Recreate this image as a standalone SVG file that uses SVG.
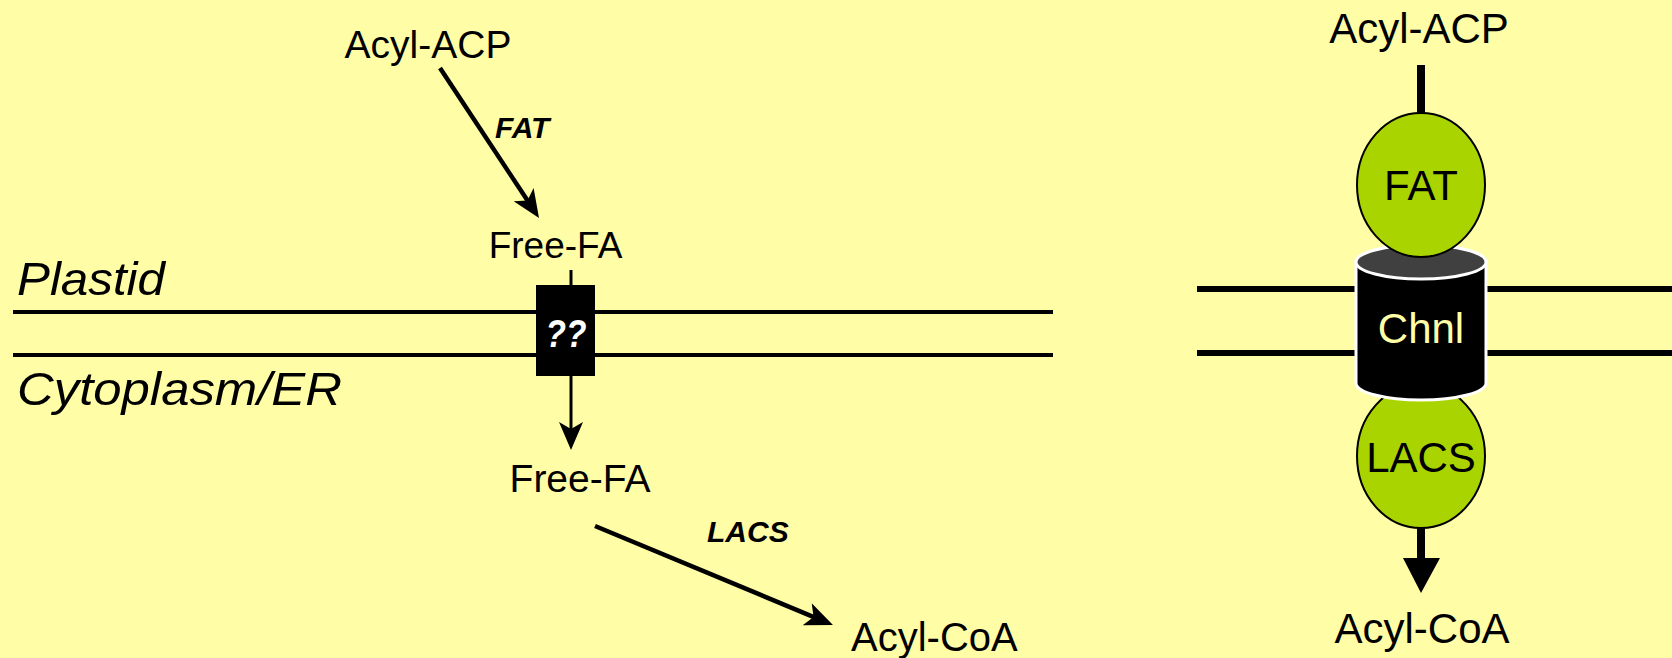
<svg xmlns="http://www.w3.org/2000/svg" width="1672" height="658" viewBox="0 0 1672 658">
<style>
text{font-family:"Liberation Sans",Arial,sans-serif;fill:#000}
.lbl{font-size:39px}
.rlbl{font-size:42px;text-anchor:middle}
.enz{font-size:30px;font-weight:bold;font-style:italic}
.comp{font-size:47px;font-style:italic}
.mem{stroke:#000;stroke-width:4;fill:none}
.rmem{stroke:#000;stroke-width:6;fill:none}
.conn{stroke:#000;fill:none}
.prot{fill:#AAD400;stroke:#000;stroke-width:2}
</style>
<defs>
<marker id="stealth" markerUnits="userSpaceOnUse" markerWidth="28" markerHeight="24" viewBox="0 0 28 24" refX="8" refY="12" orient="auto">
<path d="M0,0 L28,12 L0,24 L7,12 Z" fill="#000"/>
</marker>
</defs>
<rect x="0" y="0" width="1672" height="658" fill="#FFFDA6"/>

<g id="membranes">
<line class="mem" x1="13" y1="312" x2="1053" y2="312"/>
<line class="mem" x1="13" y1="355" x2="1053" y2="355"/>
<line class="rmem" x1="1197" y1="289" x2="1672" y2="289"/>
<line class="rmem" x1="1197" y1="353" x2="1672" y2="353"/>
</g>

<g id="compartments">
<text class="comp" x="17" y="295" textLength="148" lengthAdjust="spacingAndGlyphs">Plastid</text>
<text class="comp" x="17" y="405" textLength="325" lengthAdjust="spacingAndGlyphs">Cytoplasm/ER</text>
</g>

<g id="connectors">
<path class="conn" stroke-width="4.5" d="M440,68 L528,201.3" marker-end="url(#stealth)"/>
<line class="conn" stroke-width="3" x1="571" y1="270" x2="571" y2="286"/>
<path class="conn" stroke-width="3" d="M571,376 L571,430" marker-end="url(#stealth)"/>
<path class="conn" stroke-width="4.5" d="M595,526 L814.5,617.3" marker-end="url(#stealth)"/>
<line class="conn" stroke-width="8" x1="1421" y1="65" x2="1421" y2="115"/>
<line class="conn" stroke-width="8" x1="1421" y1="526" x2="1421" y2="560"/>
<polygon points="1403,558 1440,558 1421,593" fill="#000"/>
</g>

<g id="acyl-acp-left"><text class="lbl" x="428" y="58" text-anchor="middle">Acyl-ACP</text></g>
<g id="fat-label"><text class="enz" x="495" y="138">FAT</text></g>
<g id="free-fa-plastid"><text x="555.5" y="258" font-size="37" text-anchor="middle">Free-FA</text></g>
<g id="transporter">
<rect x="536" y="285" width="59" height="91" fill="#000"/>
<text x="566" y="347" font-size="38" font-weight="bold" font-style="italic" text-anchor="middle" style="fill:#fff" textLength="41" lengthAdjust="spacingAndGlyphs">??</text>
</g>
<g id="free-fa-cyto"><text class="lbl" x="580" y="492" text-anchor="middle">Free-FA</text></g>
<g id="lacs-label"><text class="enz" x="707" y="542">LACS</text></g>
<g id="acyl-coa-left"><text x="851" y="651" font-size="40">Acyl-CoA</text></g>

<g id="acyl-acp-right"><text class="rlbl" x="1419" y="43">Acyl-ACP</text></g>
<g id="lacs-right">
<ellipse class="prot" cx="1421" cy="456" rx="64" ry="72"/>
<text class="rlbl" x="1421" y="472">LACS</text>
</g>
<g id="channel">
<path d="M1356,262 V383 A65,17 0 0 0 1486,383 V262 A65,17 0 0 0 1356,262 Z" fill="#000" stroke="#fff" stroke-width="3"/>
<ellipse cx="1421" cy="262" rx="65" ry="17" fill="#404040" stroke="#fff" stroke-width="3"/>
<text class="rlbl" x="1421" y="343" style="fill:#FFFFA8">Chnl</text>
</g>
<g id="fat-right">
<ellipse class="prot" cx="1421" cy="185" rx="64" ry="72"/>
<text class="rlbl" x="1421" y="200">FAT</text>
</g>
<g id="acyl-coa-right"><text class="rlbl" x="1422" y="643">Acyl-CoA</text></g>
</svg>
